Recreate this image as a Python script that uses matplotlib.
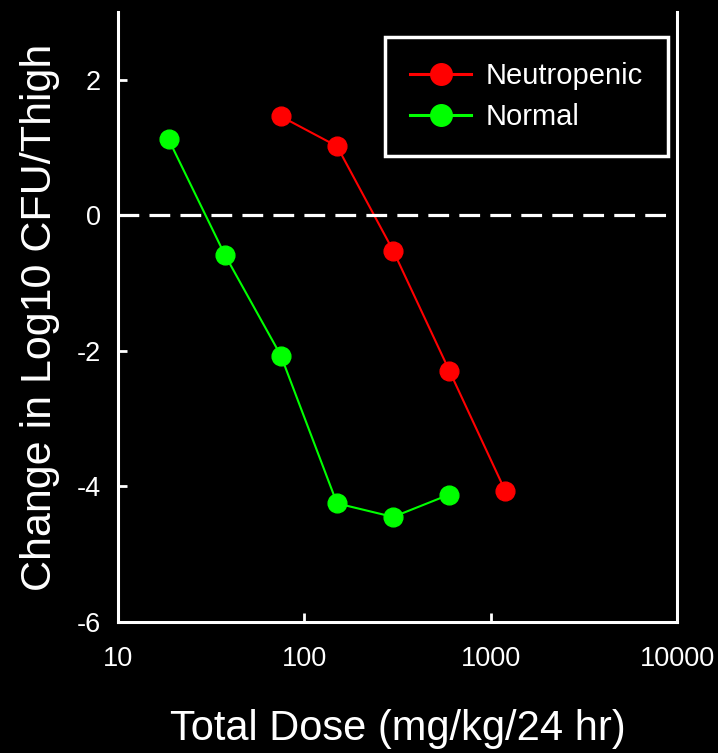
import matplotlib
matplotlib.use("Agg")
import matplotlib.pyplot as plt

neut_dose = [75, 150, 300, 600, 1200]
neut_change = [1.46, 1.02, -0.52, -2.29, -4.07]
norm_dose = [18.75, 37.5, 75, 150, 300, 600]
norm_change = [1.12, -0.58, -2.07, -4.25, -4.45, -4.12]
xticks = [10, 100, 1000, 10000]
xticklabels = ["10", "100", "1000", "10000"]
yticks = [-6, -4, -2, 0, 2]
yticklabels = ["-6", "-4", "-2", "0", "2"]

plt.rcParams['font.family'] = ["Liberation Sans", "DejaVu Sans"]

fig = plt.figure(figsize=(7.18, 7.53), dpi=100, facecolor="black")
ax = fig.add_axes([0.164, 0.174, 0.779, 0.81], facecolor="black")

ax.plot(neut_dose, neut_change, color="#ff0000", lw=1.5, marker="o", ms=13.5,
        mec="#ff0000", mfc="#ff0000", label="Neutropenic")
ax.plot(norm_dose, norm_change, color="#00ff00", lw=1.5, marker="o", ms=13.5,
        mec="#00ff00", mfc="#00ff00", label="Normal")
ax.axhline(0, color="white", lw=2.3, dashes=(6.5, 3.2))

ax.set_xscale("log")
ax.set_xlim(10, 10000)
ax.set_ylim(-6, 3)
ax.set_xticks(xticks)
ax.set_xticklabels(xticklabels)
ax.minorticks_off()
ax.set_yticks(yticks)
ax.set_yticklabels(yticklabels)
ax.tick_params(direction="in", length=6.5, width=2, colors="white",
               labelsize=19.5, pad=12)
ax.tick_params(axis="x", pad=17)

for s in ["left", "right", "bottom"]:
    ax.spines[s].set_color("white")
    ax.spines[s].set_linewidth(2.2)
ax.spines["top"].set_visible(False)

ax.set_xlabel("Total Dose (mg/kg/24 hr)", color="white", fontsize=30, labelpad=27)
ax.set_ylabel("Change in Log10 CFU/Thigh", color="white", fontsize=31, labelpad=12)

leg = ax.legend(loc="upper right", bbox_to_anchor=(0.984, 0.959), borderaxespad=0,
                fontsize=21, frameon=True, fancybox=False, facecolor="black",
                edgecolor="white", framealpha=1, labelcolor="white",
                handlelength=2.1, borderpad=0.85, labelspacing=0.45,
                handletextpad=0.5, markerscale=1.15)
leg.get_frame().set_linewidth(2.5)
for h in leg.get_lines():
    h.set_linewidth(2.2)

fig.savefig("out.png", dpi=100, facecolor="black")
